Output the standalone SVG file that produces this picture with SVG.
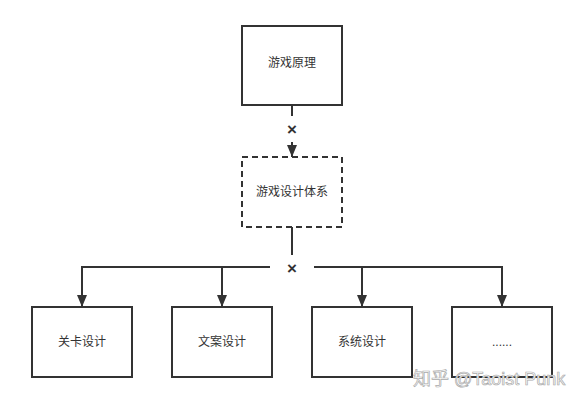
<svg xmlns="http://www.w3.org/2000/svg" width="580" height="403" viewBox="0 0 580 403">
<style>
.box{fill:#fff;stroke:#333;stroke-width:2}
.dash{stroke-dasharray:6 4}
.lbl{font-family:"Liberation Sans","Noto Sans CJK SC",sans-serif;font-size:12px;fill:#333;text-anchor:middle;dominant-baseline:central}
.ln{fill:none;stroke:#333;stroke-width:2}
.x{font-family:"Liberation Sans","Noto Sans CJK SC",sans-serif;font-size:17px;font-weight:bold;fill:#333;text-anchor:middle;dominant-baseline:central}
.wm{font-family:"Liberation Sans","Noto Sans CJK SC",sans-serif;font-size:18px;fill:#fff;stroke:#aaa;stroke-width:0.7}
</style>
<defs>
<marker id="arr" viewBox="0 0 12 10" refX="12" refY="5" markerWidth="12" markerHeight="10" markerUnits="userSpaceOnUse" orient="auto">
<path d="M0,0 L12,5 L0,10 z" fill="#333"/>
</marker>
</defs>
<rect width="580" height="403" fill="#fff"/>
<g id="connectors">
<path class="ln" d="M292,105 V116"/>
<path class="ln" d="M292,142 V157" marker-end="url(#arr)"/>
<text class="x" x="292" y="129">×</text>
<path class="ln" d="M292,227 V255"/>
<path class="ln" d="M270,267 H82 V307" marker-end="url(#arr)"/>
<path class="ln" d="M222,267 V307" marker-end="url(#arr)"/>
<path class="ln" d="M314,267 H502 V307" marker-end="url(#arr)"/>
<path class="ln" d="M362,267 V307" marker-end="url(#arr)"/>
<text class="x" x="292" y="268">×</text>
</g>
<g id="n1"><rect class="box" x="242" y="26" width="100" height="79"/><text class="lbl" x="292" y="63">游戏原理</text></g>
<g id="n2"><rect class="box dash" x="242" y="157" width="100" height="70"/><text class="lbl" x="292" y="192">游戏设计体系</text></g>
<g id="n3"><rect class="box" x="32" y="307" width="100" height="70"/><text class="lbl" x="82" y="342">关卡设计</text></g>
<g id="n4"><rect class="box" x="172" y="307" width="100" height="70"/><text class="lbl" x="222" y="342">文案设计</text></g>
<g id="n5"><rect class="box" x="312" y="307" width="100" height="70"/><text class="lbl" x="362" y="342">系统设计</text></g>
<g id="n6"><rect class="box" x="452" y="307" width="100" height="70"/><text class="lbl" x="502" y="342">......</text></g>
<text class="wm" x="413" y="385">知乎 @Taoist Punk</text>
</svg>
